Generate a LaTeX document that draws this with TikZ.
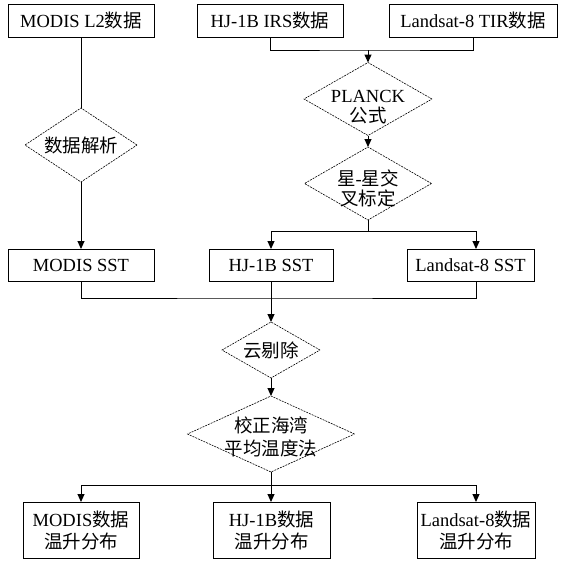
\documentclass[tikz,border=0pt]{standalone}
\usepackage{fontspec}
\setmainfont{Liberation Serif}
\newfontfamily\cjk{Noto Sans CJK SC}
\newcommand\zh[1]{{\cjk #1}}
\usetikzlibrary{shapes.geometric,arrows.meta}
\tikzset{
  box/.style={draw, line width=1pt, inner sep=0pt, outer sep=0pt, align=center,
    font=\fontsize{18.5}{22}\selectfont},
  dia/.style={draw, diamond, dash pattern=on 2pt off 1pt, line width=0.6pt, inner sep=0pt, outer sep=0pt},
  txt/.style={font=\fontsize{18.5}{21}\selectfont, align=center, inner sep=0pt},
  ln/.style={line width=1pt},
  arr/.style={line width=1pt, -{Triangle[length=8pt,width=7pt]}}
}
\begin{document}
\begin{tikzpicture}[x=1pt,y=-1pt]
\useasboundingbox (0,0) rectangle (561,562);
% top boxes
\node[box, minimum width=146pt, minimum height=33pt] (m2) at (81,20.5) {MODIS L2\zh{数据}};
\node[box, minimum width=146pt, minimum height=33pt] (hirs) at (270,20.5) {HJ-1B IRS\zh{数据}};
\node[box, minimum width=168pt, minimum height=33pt] (ltir) at (473,20.5) {Landsat-8 TIR\zh{数据}};
% diamonds
\node[dia, minimum width=112pt, minimum height=74pt] (parse) at (81,145) {};
\node[txt] (parset) at (81,145) {\zh{数据解析}};
\node[dia, minimum width=128pt, minimum height=73pt] (planck) at (368,99) {};
\node[txt, font=\fontsize{18.5}{20}\selectfont] (planckt) at (368,107) {PLANCK\\\zh{公式}};
\node[dia, minimum width=127pt, minimum height=73pt] (star) at (368,183.5) {};
\node[txt, font=\fontsize{18.5}{20}\selectfont] (start) at (368,188) {\zh{星}-\zh{星交}\\\zh{叉标定}};
% SST boxes
\node[box, minimum width=146pt, minimum height=32pt] (msst) at (81,265) {MODIS SST};
\node[box, minimum width=124pt, minimum height=32pt] (hsst) at (271,265) {HJ-1B SST};
\node[box, minimum width=127pt, minimum height=32pt] (lsst) at (470.5,265) {Landsat-8 SST};
% cloud + correction
\node[dia, minimum width=98pt, minimum height=56pt] (cloud) at (271,350) {};
\node[txt] (cloudt) at (271,350) {\zh{云剔除}};
\node[dia, minimum width=167pt, minimum height=76pt] (corr) at (271,434) {};
\node[txt, font=\fontsize{18.5}{23}\selectfont] (corrt) at (271,436.5) {\zh{校正海湾}\\\zh{平均温度法}};
% bottom boxes
\node[box, minimum width=116pt, minimum height=56pt] (mb) at (81,530) {MODIS\zh{数据}\\\zh{温升分布}};
\node[box, minimum width=117pt, minimum height=56pt] (hb) at (271.5,530) {HJ-1B\zh{数据}\\\zh{温升分布}};
\node[box, minimum width=118pt, minimum height=56pt] (lb) at (476,530) {Landsat-8\zh{数据}\\\zh{温升分布}};
% connectors
\coordinate (j1) at (368,50);
\coordinate (j2) at (368,231);
\coordinate (j3) at (271,298);
\coordinate (j4) at (271,485);
\draw[ln] (m2.south) -- (parse.north);
\draw[arr] (parse.south) -- (msst.north);
\draw[ln] (hirs.south) |- (j1) -| (ltir.south);
\draw[arr] (j1) -- (planck.north);
\draw[arr] (planck.south) -- (star.north);
\draw[ln] (star.south) -- (j2);
\draw[arr] (j2) -| (hsst.north);
\draw[arr] (j2) -| (lsst.north -| lb.north);
\draw[ln] (msst.south) |- (j3) -| (lsst.south -| lb.north);
\draw[arr] (hsst.south) -- (cloud.north);
\draw[arr] (cloud.south) -- (corr.north);
\draw[ln] (corr.south) -- (j4);
\draw[arr] (j4) -| (mb.north);
\draw[arr] (j4) -- (hb.north -| j4);
\draw[arr] (j4) -| (lb.north);
\end{tikzpicture}
\end{document}
